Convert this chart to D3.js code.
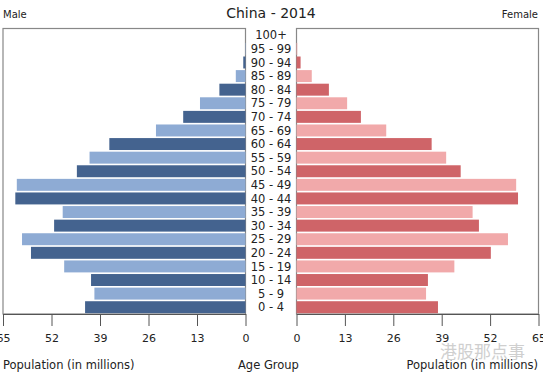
<!DOCTYPE html>
<html>
<head>
<meta charset="utf-8">
<script src="https://cdn.jsdelivr.net/npm/d3@7"></script>
<style>
  body { margin: 0; background: #fff; }
  svg { display: block; font-family: "DejaVu Sans", sans-serif; }
</style>
</head>
<body>
<div id="chart"></div>
<script>
// age groups, bottom to top
const ageGroups = ["0 - 4","5 - 9","10 - 14","15 - 19","20 - 24","25 - 29","30 - 34","35 - 39","40 - 44","45 - 49",
  "50 - 54","55 - 59","60 - 64","65 - 69","70 - 74","75 - 79","80 - 84","85 - 89","90 - 94","95 - 99","100+"];
// population in millions
const male = [43.0, 40.5, 41.4, 48.6, 57.5, 59.9, 51.3, 49.0, 61.7, 61.3,
  45.2, 41.8, 36.5, 24.0, 16.7, 12.2, 7.0, 2.6, 0.6, 0.1, 0.0];
const female = [38.0, 34.8, 35.3, 42.4, 52.2, 56.8, 49.0, 47.3, 59.5, 59.0,
  44.1, 40.2, 36.3, 24.1, 17.3, 13.6, 8.7, 4.1, 1.1, 0.2, 0.0];
const tickValues = [0, 13, 26, 39, 52, 65];

const width = 543, height = 377;
const plotTop = 28.5, plotBottom = 314;

const svg = d3.select("#chart").append("svg")
  .attr("width", width)
  .attr("height", height);

const y = d3.scaleBand()
  .domain(ageGroups)
  .range([plotBottom, plotTop])
  .paddingInner(0.12)
  .paddingOuter(0.06);

const xLeft = d3.scaleLinear().domain([0, 65]).range([245.5, 3]);
const xRight = d3.scaleLinear().domain([0, 65]).range([296.5, 538.5]);

const maleColor = i => i % 2 === 0 ? "#44638f" : "#8eabd4";
const femaleColor = i => i % 2 === 0 ? "#cf6468" : "#f1a9aa";

// panel boxes
svg.append("rect")
  .attr("x", xLeft(65)).attr("y", plotTop)
  .attr("width", xLeft(0) - xLeft(65)).attr("height", plotBottom - plotTop)
  .attr("fill", "none").attr("stroke", "#888").attr("stroke-width", 1.2);
svg.append("rect")
  .attr("x", xRight(0)).attr("y", plotTop)
  .attr("width", xRight(65) - xRight(0)).attr("height", plotBottom - plotTop)
  .attr("fill", "none").attr("stroke", "#888").attr("stroke-width", 1.2);

// bars
svg.append("g").selectAll("rect")
  .data(ageGroups)
  .join("rect")
    .attr("x", (d, i) => xLeft(male[i]))
    .attr("y", d => y(d))
    .attr("width", (d, i) => xLeft(0) - xLeft(male[i]))
    .attr("height", y.bandwidth())
    .attr("fill", (d, i) => maleColor(i));

svg.append("g").selectAll("rect")
  .data(ageGroups)
  .join("rect")
    .attr("x", xRight(0))
    .attr("y", d => y(d))
    .attr("width", (d, i) => xRight(female[i]) - xRight(0))
    .attr("height", y.bandwidth())
    .attr("fill", (d, i) => femaleColor(i));

// age labels
svg.append("g").selectAll("text")
  .data(ageGroups)
  .join("text")
    .attr("x", (xLeft(0) + xRight(0)) / 2)
    .attr("y", d => y(d) + y.bandwidth() / 2)
    .attr("dy", "0.36em")
    .attr("text-anchor", "middle")
    .attr("font-size", 11.5)
    .attr("fill", "#222")
    .text(d => d);

// axes
const styleAxis = g => {
  g.select(".domain").attr("stroke", "#555");
  g.selectAll(".tick line").attr("stroke", "#555");
  g.selectAll(".tick text").attr("font-size", 11).attr("fill", "#222")
    .attr("font-family", "DejaVu Sans, sans-serif").attr("dy", "1.2em");
};
svg.append("g")
  .attr("transform", `translate(0,${plotBottom})`)
  .call(d3.axisBottom(xLeft).tickValues(tickValues).tickSize(12).tickSizeOuter(0))
  .call(styleAxis);
svg.append("g")
  .attr("transform", `translate(0,${plotBottom})`)
  .call(d3.axisBottom(xRight).tickValues(tickValues).tickSize(12).tickSizeOuter(0))
  .call(styleAxis);

// titles
svg.append("text")
  .attr("x", 271).attr("y", 18)
  .attr("text-anchor", "middle")
  .attr("font-size", 14).attr("fill", "#222")
  .text("China - 2014");
svg.append("text")
  .attr("x", 3).attr("y", 18)
  .attr("font-size", 10).attr("fill", "#222")
  .text("Male");
svg.append("text")
  .attr("x", 538).attr("y", 18)
  .attr("text-anchor", "end")
  .attr("font-size", 10).attr("fill", "#222")
  .text("Female");

svg.append("text")
  .attr("x", 3).attr("y", 369)
  .attr("font-size", 11.5).attr("fill", "#222")
  .text("Population (in millions)");
svg.append("text")
  .attr("x", 238).attr("y", 369)
  .attr("font-size", 11.5).attr("fill", "#222")
  .text("Age Group");
svg.append("text")
  .attr("x", 538).attr("y", 369)
  .attr("text-anchor", "end")
  .attr("font-size", 11.5).attr("fill", "#222")
  .text("Population (in millions)");

// watermark
svg.append("text")
  .attr("x", 525).attr("y", 358)
  .attr("text-anchor", "end")
  .attr("font-size", 17)
  .attr("font-family", "Noto Sans CJK SC")
  .attr("fill", "#cfcfcf")
  .text("港股那点事");
</script>
</body>
</html>
